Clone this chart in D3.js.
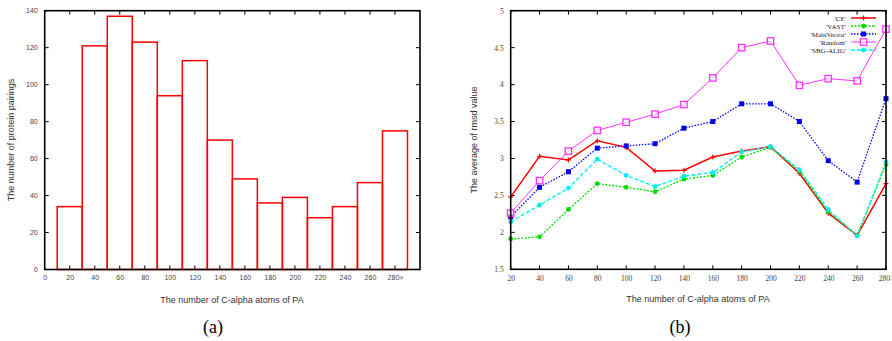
<!DOCTYPE html>
<html>
<head>
<meta charset="utf-8">
<script src="https://cdn.jsdelivr.net/npm/d3@7"></script>
<style>
  body { margin: 0; background: #fff; }
  svg { display: block; }
  .tick text { fill: #444; }
</style>
</head>
<body>
<div id="chart"></div>
<script>
// (a) histogram
var binCenters = [20, 40, 60, 80, 100, 120, 140, 160, 180, 200, 220, 240, 260, 280];
var binCounts = [34, 121, 137, 123, 94, 113, 70, 49, 36, 39, 28, 34, 47, 75];
var histTicks = [0, 20, 40, 60, 80, 100, 120, 140, 160, 180, 200, 220, 240, 260, 280];
var histTickLabels = ["0", "20", "40", "60", "80", "100", "120", "140", "160", "180", "200", "220", "240", "260", "280>"];

// (b) average rmsd per method
var sizes = [20, 40, 60, 80, 100, 120, 140, 160, 180, 200, 220, 240, 260, 280];
var ceVals = [2.48, 3.03, 2.98, 3.24, 3.15, 2.83, 2.84, 3.02, 3.10, 3.16, 2.80, 2.26, 1.96, 2.66];
var vastVals = [1.91, 1.94, 2.31, 2.66, 2.61, 2.55, 2.72, 2.77, 3.02, 3.15, 2.83, 2.28, 1.96, 2.92];
var mainVectorVals = [2.21, 2.61, 2.82, 3.14, 3.17, 3.20, 3.41, 3.50, 3.74, 3.74, 3.50, 2.97, 2.68, 3.81];
var randomVals = [2.26, 2.70, 3.10, 3.38, 3.49, 3.60, 3.73, 4.09, 4.50, 4.59, 3.99, 4.08, 4.05, 4.75];
var sbgVals = [2.14, 2.37, 2.60, 2.99, 2.77, 2.62, 2.76, 2.81, 3.09, 3.16, 2.85, 2.31, 1.95, 2.95];
var sizeTickLabels = ["20", "40", "60", "80", "100", "120", "140", "160", "180", "200", "220", "240", "260", "280>"];
var rmsdTicks = [1.5, 2, 2.5, 3, 3.5, 4, 4.5, 5];

var series = [
  {name: "'CE'", values: ceVals, color: "#ff0000", dash: null, width: 1.5, marker: "plus"},
  {name: "'VAST'", values: vastVals, color: "#00dd00", dash: "2,1.5", width: 1.3, marker: "dot"},
  {name: "'MainVector'", values: mainVectorVals, color: "#0000ee", dash: "1.5,1.5", width: 1.3, marker: "fsquare"},
  {name: "'Random'", values: randomVals, color: "#ff33ff", dash: null, width: 1, marker: "osquare"},
  {name: "'SBG-ALIG'", values: sbgVals, color: "#00eeee", dash: "4,2", width: 1.3, marker: "dot"}
];

var W = 892, H = 341;
var sans = "'Liberation Sans', Arial, sans-serif";
var serif = "'Liberation Serif', 'Times New Roman', serif";

var svg = d3.select("#chart").append("svg")
  .attr("width", W)
  .attr("height", H);

function frame(g, x0, x1, y0, y1) {
  g.append("rect")
    .attr("x", x0).attr("y", y0)
    .attr("width", x1 - x0).attr("height", y1 - y0)
    .attr("fill", "none").attr("stroke", "#000").attr("stroke-width", 1.6);
}

// ---------- (a) ----------
var ax = d3.scaleLinear().domain([0, 300]).range([44.7, 420]);
var ay = d3.scaleLinear().domain([0, 140]).range([269.5, 10.7]);
var ga = svg.append("g");

ga.selectAll(".bar")
  .data(binCenters)
  .enter().append("rect")
  .attr("class", "bar")
  .attr("x", function (d) { return ax(d - 10); })
  .attr("y", function (d, i) { return ay(binCounts[i]); })
  .attr("width", function (d) { return ax(d + 10) - ax(d - 10); })
  .attr("height", function (d, i) { return ay(0) - ay(binCounts[i]); })
  .attr("fill", "none")
  .attr("stroke", "#ff0000")
  .attr("stroke-width", 1.5);

// ticks inside on all four sides (gnuplot style)
var aTickX = ga.append("g");
histTicks.forEach(function (t) {
  aTickX.append("line").attr("x1", ax(t)).attr("x2", ax(t)).attr("y1", ay(0)).attr("y2", ay(0) - 4).attr("stroke", "#000");
  aTickX.append("line").attr("x1", ax(t)).attr("x2", ax(t)).attr("y1", ay(140)).attr("y2", ay(140) + 4).attr("stroke", "#000");
});
ay.ticks(7).forEach(function (t) {
  aTickX.append("line").attr("x1", ax(0)).attr("x2", ax(0) + 4).attr("y1", ay(t)).attr("y2", ay(t)).attr("stroke", "#000");
  aTickX.append("line").attr("x1", ax(300)).attr("x2", ax(300) - 4).attr("y1", ay(t)).attr("y2", ay(t)).attr("stroke", "#000");
});
frame(ga, ax(0), ax(300), ay(140), ay(0));

var xa = d3.axisBottom(ax).tickValues(histTicks).tickSize(0).tickPadding(6)
  .tickFormat(function (d, i) { return histTickLabels[i]; });
ga.append("g").attr("transform", "translate(0," + ay(0) + ")").call(xa)
  .call(function (g) { g.select(".domain").remove(); })
  .selectAll("text").attr("font-family", sans).attr("font-size", 7);

var ya = d3.axisLeft(ay).ticks(7).tickSize(0).tickPadding(7);
ga.append("g").attr("transform", "translate(" + ax(0) + ",0)").call(ya)
  .call(function (g) { g.select(".domain").remove(); })
  .selectAll("text").attr("font-family", sans).attr("font-size", 7);

ga.append("text")
  .attr("x", 232).attr("y", 303)
  .attr("text-anchor", "middle")
  .attr("font-family", sans).attr("font-size", 9).attr("fill", "#333")
  .text("The number of C-alpha atoms of PA");
ga.append("text")
  .attr("transform", "translate(14,140) rotate(-90)")
  .attr("text-anchor", "middle")
  .attr("font-family", sans).attr("font-size", 9).attr("fill", "#333")
  .text("The number of protein pairings");
ga.append("text")
  .attr("x", 213).attr("y", 333)
  .attr("text-anchor", "middle")
  .attr("font-family", serif).attr("font-size", 18).attr("fill", "#000")
  .text("(a)");

// ---------- (b) ----------
var bx = d3.scaleLinear().domain([20, 280]).range([510.7, 886]);
var by = d3.scaleLinear().domain([1.5, 5]).range([269.3, 10.7]);
var gb = svg.append("g");

var bt = gb.append("g");
sizes.forEach(function (t) {
  bt.append("line").attr("x1", bx(t)).attr("x2", bx(t)).attr("y1", by(1.5)).attr("y2", by(1.5) - 4).attr("stroke", "#000");
  bt.append("line").attr("x1", bx(t)).attr("x2", bx(t)).attr("y1", by(5)).attr("y2", by(5) + 4).attr("stroke", "#000");
});
rmsdTicks.forEach(function (t) {
  bt.append("line").attr("x1", bx(20)).attr("x2", bx(20) + 4).attr("y1", by(t)).attr("y2", by(t)).attr("stroke", "#000");
  bt.append("line").attr("x1", bx(280)).attr("x2", bx(280) - 4).attr("y1", by(t)).attr("y2", by(t)).attr("stroke", "#000");
});

var line = d3.line()
  .x(function (d, i) { return bx(sizes[i]); })
  .y(function (d) { return by(d); });

function drawMarker(g, kind, x, y, color) {
  if (kind === "plus") {
    g.append("path").attr("d", "M" + (x - 2.5) + "," + y + "h5M" + x + "," + (y - 2.5) + "v5")
      .attr("stroke", color).attr("stroke-width", 1.2);
  } else if (kind === "dot") {
    g.append("circle").attr("cx", x).attr("cy", y).attr("r", 2.4).attr("fill", color);
  } else if (kind === "fsquare") {
    g.append("rect").attr("x", x - 2.5).attr("y", y - 2.5).attr("width", 5).attr("height", 5).attr("fill", color);
  } else if (kind === "osquare") {
    g.append("rect").attr("x", x - 3.2).attr("y", y - 3.2).attr("width", 6.4).attr("height", 6.4)
      .attr("fill", "#fff").attr("fill-opacity", 0.6).attr("stroke", color).attr("stroke-width", 1.3);
  }
}

series.forEach(function (s) {
  var g = gb.append("g");
  g.append("path")
    .datum(s.values)
    .attr("d", line)
    .attr("fill", "none")
    .attr("stroke", s.color)
    .attr("stroke-width", s.width)
    .attr("stroke-dasharray", s.dash);
  s.values.forEach(function (v, i) {
    drawMarker(g, s.marker, bx(sizes[i]), by(v), s.color);
  });
});

frame(gb, bx(20), bx(280), by(5), by(1.5));

var xb = d3.axisBottom(bx).tickValues(sizes).tickSize(0).tickPadding(6)
  .tickFormat(function (d, i) { return sizeTickLabels[i]; });
gb.append("g").attr("transform", "translate(0," + by(1.5) + ")").call(xb)
  .call(function (g) { g.select(".domain").remove(); })
  .selectAll("text").attr("font-family", serif).attr("font-size", 7.5);

var yb = d3.axisLeft(by).tickValues(rmsdTicks).tickSize(0).tickPadding(7)
  .tickFormat(d3.format("~g"));
gb.append("g").attr("transform", "translate(" + bx(20) + ",0)").call(yb)
  .call(function (g) { g.select(".domain").remove(); })
  .selectAll("text").attr("font-family", serif).attr("font-size", 7.5);

gb.append("text")
  .attr("x", 698).attr("y", 302)
  .attr("text-anchor", "middle")
  .attr("font-family", sans).attr("font-size", 9).attr("fill", "#333")
  .text("The number of C-alpha atoms of PA");
gb.append("text")
  .attr("transform", "translate(477,140) rotate(-90)")
  .attr("text-anchor", "middle")
  .attr("font-family", sans).attr("font-size", 9).attr("fill", "#333")
  .text("The average of rmsd value");
gb.append("text")
  .attr("x", 680).attr("y", 333)
  .attr("text-anchor", "middle")
  .attr("font-family", serif).attr("font-size", 18).attr("fill", "#000")
  .text("(b)");

// legend
var lg = gb.append("g");
series.forEach(function (s, i) {
  var y = 18 + i * 8;
  lg.append("text")
    .attr("x", 846).attr("y", y + 2.5)
    .attr("text-anchor", "end")
    .attr("font-family", serif).attr("font-size", 7).attr("fill", "#222")
    .text(s.name);
  lg.append("line")
    .attr("x1", 851).attr("x2", 876).attr("y1", y).attr("y2", y)
    .attr("stroke", s.color).attr("stroke-width", s.width)
    .attr("stroke-dasharray", s.dash);
  drawMarker(lg, s.marker, 863.5, y, s.color);
});
</script>
</body>
</html>
